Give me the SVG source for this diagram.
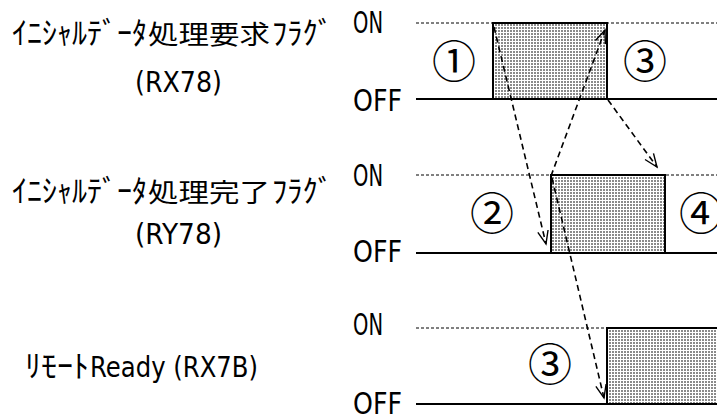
<svg xmlns="http://www.w3.org/2000/svg" width="717" height="417" viewBox="0 0 717 417">
<defs>
<style>
.j{font-family:"Noto Sans CJK JP",sans-serif;fill:#000}
.l{font-family:"DejaVu Sans","Liberation Sans",sans-serif;fill:#000}
.lv{font-size:31px}
.kk{font-size:31px}
.kj{font-size:26px}
.lt{font-size:29px}
.cn{font-size:44px;font-family:"Noto Sans CJK JP",sans-serif;fill:#000}
.on{stroke:#000;stroke-width:1;stroke-dasharray:3,2;fill:none}
.off{stroke:#000;stroke-width:2;fill:none}
.pulse{fill:url(#dots);stroke:#000;stroke-width:2}
.arr{stroke:#000;stroke-width:1.6;stroke-dasharray:6,4;fill:none;marker-end:url(#ah)}
</style>
<pattern id="dots" width="3" height="3" patternUnits="userSpaceOnUse">
<rect width="3" height="3" fill="#fff"/>
<rect width="2" height="2" fill="#8a8a8a"/>
</pattern>
<marker id="ah" markerWidth="20" markerHeight="14" refX="0" refY="0" viewBox="-16 -8 20 16" orient="auto" markerUnits="userSpaceOnUse">
<path d="M-15,-6 L0,0 L-15,6" fill="none" stroke="#000" stroke-width="1.6"/>
</marker>
</defs>
<g id="label1">
<text class="j kk" y="44"><tspan x="12" textLength="135" lengthAdjust="spacingAndGlyphs">ｲﾆｼｬﾙﾃﾞｰﾀ</tspan><tspan class="kj" x="148" textLength="122" lengthAdjust="spacingAndGlyphs">処理要求</tspan><tspan x="272" textLength="61" lengthAdjust="spacingAndGlyphs">ﾌﾗｸﾞ</tspan></text>
<text class="l lt" x="135" y="92" textLength="87" lengthAdjust="spacingAndGlyphs">(RX78)</text>
</g>
<g id="label2">
<text class="j kk" y="202"><tspan x="12" textLength="135" lengthAdjust="spacingAndGlyphs">ｲﾆｼｬﾙﾃﾞｰﾀ</tspan><tspan class="kj" x="148" textLength="122" lengthAdjust="spacingAndGlyphs">処理完了</tspan><tspan x="272" textLength="61" lengthAdjust="spacingAndGlyphs">ﾌﾗｸﾞ</tspan></text>
<text class="l lt" x="135" y="244" textLength="87" lengthAdjust="spacingAndGlyphs">(RY78)</text>
</g>
<g id="label3">
<text class="j kk" x="25" y="377" textLength="64" lengthAdjust="spacingAndGlyphs">ﾘﾓｰﾄ</text>
<text class="l lt" x="90" y="377" textLength="168" lengthAdjust="spacingAndGlyphs">Ready (RX7B)</text>
</g>
<g id="levels">
<text class="l lv" x="353" y="33" textLength="30" lengthAdjust="spacingAndGlyphs">ON</text>
<text class="l lv" x="353" y="111" textLength="49" lengthAdjust="spacingAndGlyphs">OFF</text>
<text class="l lv" x="353" y="186" textLength="30" lengthAdjust="spacingAndGlyphs">ON</text>
<text class="l lv" x="353" y="262" textLength="49" lengthAdjust="spacingAndGlyphs">OFF</text>
<text class="l lv" x="353" y="335" textLength="30" lengthAdjust="spacingAndGlyphs">ON</text>
<text class="l lv" x="353" y="414" textLength="49" lengthAdjust="spacingAndGlyphs">OFF</text>
</g>
<g id="signal1">
<line class="on" x1="416" y1="23" x2="717" y2="23"/>
<rect class="pulse" x="493" y="23" width="114" height="76"/>
<polyline class="off" points="416,99 493,99"/>
<polyline class="off" points="607,99 717,99"/>
<text class="cn" x="454" y="78" text-anchor="middle">①</text>
<text class="cn" x="645" y="78" text-anchor="middle">③</text>
</g>
<g id="signal2">
<line class="on" x1="416" y1="175" x2="717" y2="175"/>
<rect class="pulse" x="551" y="175" width="114" height="78"/>
<polyline class="off" points="416,253 551,253"/>
<polyline class="off" points="665,253 717,253"/>
<text class="cn" x="492" y="230" text-anchor="middle">②</text>
<text class="cn" x="701" y="230" text-anchor="middle">④</text>
</g>
<g id="signal3">
<line class="on" x1="416" y1="328" x2="607" y2="328"/>
<rect class="pulse" x="607" y="328" width="112" height="76"/>
<polyline class="off" points="416,404 607,404"/>
<text class="cn" x="550" y="381" text-anchor="middle">③</text>
</g>
<g id="connectors">
<line class="arr" x1="494" y1="27" x2="546" y2="244"/>
<line class="arr" x1="551" y1="176" x2="605" y2="30"/>
<line class="arr" x1="608" y1="100" x2="657" y2="167"/>
<line class="arr" x1="552" y1="178" x2="604" y2="398"/>
</g>
</svg>
